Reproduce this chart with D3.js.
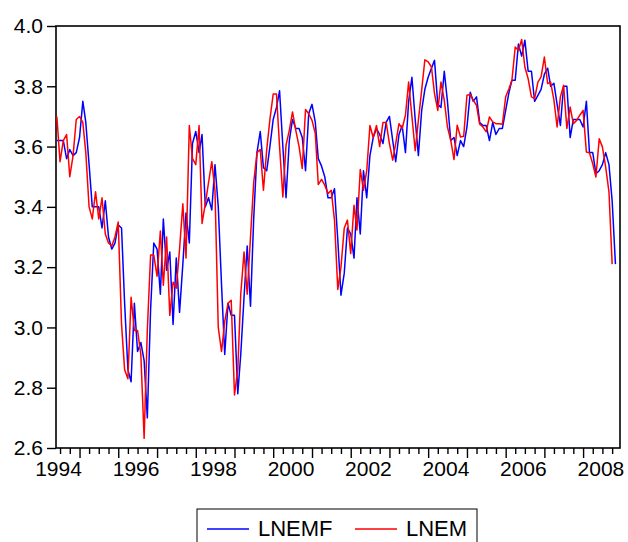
<!DOCTYPE html>
<html>
<head>
<meta charset="utf-8">
<script src="https://cdn.jsdelivr.net/npm/d3@7"></script>
<style>
  body { margin: 0; background: #fff; }
  text { font-family: "Liberation Sans", Arial, sans-serif; fill: #000; }
</style>
</head>
<body>
<div id="chart"></div>
<script>
// monthly series, both start June 1994
var startYear = 1994, startMonth = 5;

var lnemf = [3.62, 3.62, 3.62, 3.56, 3.59, 3.57, 3.58, 3.63, 3.75, 3.68,
  3.54, 3.40, 3.40, 3.40, 3.33, 3.42, 3.30, 3.26, 3.28, 3.34,
  3.33, 3.08, 2.86, 2.82, 3.08, 2.92, 2.95, 2.89, 2.70, 3.06,
  3.28, 3.26, 3.11, 3.36, 3.19, 3.25, 3.01, 3.23, 3.05, 3.21,
  3.38, 3.28, 3.61, 3.65, 3.58, 3.64, 3.40, 3.43, 3.39, 3.54,
  3.40, 3.14, 2.91, 3.08, 3.04, 3.04, 2.78, 2.91, 3.10, 3.27,
  3.07, 3.36, 3.58, 3.65, 3.53, 3.52, 3.60, 3.69, 3.73, 3.785,
  3.60, 3.43, 3.62, 3.69, 3.66, 3.66, 3.63, 3.52, 3.71, 3.74,
  3.68, 3.56, 3.535, 3.50, 3.43, 3.43, 3.46, 3.29, 3.107, 3.18,
  3.33, 3.31, 3.23, 3.43, 3.31, 3.52, 3.43, 3.57, 3.63, 3.66,
  3.64, 3.61, 3.68, 3.70, 3.62, 3.55, 3.64, 3.67, 3.58, 3.75,
  3.83, 3.69, 3.57, 3.72, 3.79, 3.83, 3.86, 3.886, 3.74, 3.73,
  3.85, 3.75, 3.62, 3.63, 3.57, 3.62, 3.60, 3.665, 3.78, 3.75,
  3.765, 3.68, 3.67, 3.67, 3.62, 3.68, 3.64, 3.66, 3.66, 3.72,
  3.78, 3.82, 3.82, 3.94, 3.90, 3.953, 3.85, 3.85, 3.75, 3.77,
  3.79, 3.84, 3.86, 3.80, 3.81, 3.74, 3.67, 3.80, 3.80, 3.63,
  3.69, 3.69, 3.69, 3.665, 3.75, 3.58, 3.58, 3.51, 3.52, 3.54,
  3.58, 3.54, 3.42, 3.21];

var lnem = [3.70, 3.55, 3.62, 3.64, 3.50, 3.57, 3.69, 3.70, 3.68, 3.58,
  3.40, 3.36, 3.45, 3.36, 3.43, 3.31, 3.28, 3.27, 3.30, 3.35,
  3.01, 2.86, 2.83, 3.10, 2.99, 2.99, 2.91, 2.632, 2.99, 3.24,
  3.24, 3.17, 3.32, 3.14, 3.30, 3.04, 3.15, 3.13, 3.26, 3.41,
  3.23, 3.67, 3.56, 3.54, 3.67, 3.345, 3.41, 3.48, 3.55, 3.455,
  3.00, 2.92, 3.02, 3.08, 3.09, 2.776, 2.86, 3.11, 3.25, 3.11,
  3.30, 3.48, 3.58, 3.59, 3.455, 3.59, 3.69, 3.774, 3.774, 3.60,
  3.433, 3.605, 3.654, 3.715, 3.654, 3.60, 3.527, 3.723, 3.709, 3.687,
  3.643, 3.474, 3.491, 3.472, 3.444, 3.455, 3.356, 3.126, 3.20, 3.33,
  3.356, 3.245, 3.405, 3.323, 3.524, 3.455, 3.52, 3.67, 3.63, 3.67,
  3.60, 3.68, 3.68, 3.61, 3.555, 3.61, 3.676, 3.66, 3.704, 3.814,
  3.70, 3.586, 3.687, 3.787, 3.888, 3.881, 3.864, 3.776, 3.72, 3.814,
  3.754, 3.665, 3.621, 3.557, 3.671, 3.632, 3.634, 3.77, 3.773, 3.754,
  3.737, 3.674, 3.665, 3.649, 3.698, 3.682, 3.676, 3.676, 3.674, 3.765,
  3.792, 3.82, 3.93, 3.919, 3.955, 3.864, 3.825, 3.765, 3.759, 3.814,
  3.831, 3.897, 3.809, 3.814, 3.754, 3.665, 3.765, 3.803, 3.66, 3.731,
  3.676, 3.687, 3.704, 3.72, 3.582, 3.579, 3.543, 3.499, 3.626, 3.599,
  3.532, 3.45, 3.21];

var yTicks = [2.6, 2.8, 3.0, 3.2, 3.4, 3.6, 3.8, 4.0];
var yearLabels = [1994, 1996, 1998, 2000, 2002, 2004, 2006, 2008];
var seriesNames = ["LNEMF", "LNEM"];
var seriesColors = ["#0000ff", "#ff0000"];

var margin = {top: 26, right: 8, bottom: 94, left: 56},
    width = 628 - margin.left - margin.right,
    height = 542 - margin.top - margin.bottom;

function monthDate(i) {
    return new Date(Date.UTC(startYear, startMonth + i, 1));
}

var x = d3.scaleUtc()
    .domain([new Date(Date.UTC(1994, 4, 24)), new Date(Date.UTC(2008, 11, 14))])
    .range([0, width]);
var y = d3.scaleLinear()
    .domain([2.6, 4.0])
    .range([height, 0]);

var svg = d3.select("#chart").append("svg")
    .attr("width", 628)
    .attr("height", 542)
    .append("g")
    .attr("transform", "translate(" + margin.left + "," + margin.top + ")");

// quarter and year ticks along the bottom
var quarters = d3.utcMonths(new Date(Date.UTC(1994, 0, 1)), new Date(Date.UTC(2009, 0, 1)), 3)
    .filter(function(d) { return d >= x.domain()[0] && d <= x.domain()[1] && d.getUTCMonth() != 0; });
var years = d3.utcYears(new Date(Date.UTC(1995, 0, 1)), new Date(Date.UTC(2009, 0, 1)));

svg.append("g")
    .attr("transform", "translate(0," + height + ")")
    .call(d3.axisBottom(x).tickValues(quarters).tickSize(6).tickFormat(""))
    .call(function(g) { g.select(".domain").remove(); });

svg.append("g")
    .attr("transform", "translate(0," + height + ")")
    .call(d3.axisBottom(x).tickValues(years).tickSize(10).tickFormat(""))
    .call(function(g) { g.select(".domain").remove(); });

// labels sit in the middle of each year
svg.append("g")
    .attr("transform", "translate(0," + height + ")")
    .call(d3.axisBottom(x)
        .tickValues(yearLabels.map(function(yr) { return new Date(Date.UTC(yr, 6, 1)); }))
        .tickSize(0).tickPadding(13)
        .tickFormat(d3.utcFormat("%Y")))
    .call(function(g) { g.select(".domain").remove(); })
    .selectAll("text")
    .attr("dx", "-2")
    .style("font-size", "21px");

svg.append("g")
    .call(d3.axisLeft(y).tickValues(yTicks).tickSize(9).tickPadding(4).tickFormat(d3.format(".1f")))
    .call(function(g) { g.select(".domain").remove(); })
    .selectAll("text")
    .style("font-size", "21px");

svg.selectAll(".tick line").attr("stroke", "#000").attr("stroke-width", 1.4);

// frame
svg.append("rect")
    .attr("width", width)
    .attr("height", height)
    .attr("fill", "none")
    .attr("stroke", "#000")
    .attr("stroke-width", 1.6);

var line = d3.line()
    .x(function(d, i) { return x(monthDate(i)); })
    .y(function(d) { return y(d); });

[lnemf, lnem].forEach(function(s, k) {
    svg.append("path")
        .datum(s)
        .attr("fill", "none")
        .attr("stroke", seriesColors[k])
        .attr("stroke-width", 1.5)
        .attr("stroke-linejoin", "round")
        .attr("d", line);
});

// legend
var legend = svg.append("g")
    .attr("transform", "translate(" + (197 - margin.left) + "," + (509 - margin.top) + ")");

legend.append("rect")
    .attr("width", 280)
    .attr("height", 44)
    .attr("fill", "#fff")
    .attr("stroke", "#000")
    .attr("stroke-width", 1);

var legendX = [10, 158];
seriesNames.forEach(function(name, k) {
    legend.append("line")
        .attr("x1", legendX[k]).attr("x2", legendX[k] + 42)
        .attr("y1", 20).attr("y2", 20)
        .attr("stroke", seriesColors[k])
        .attr("stroke-width", 1.5);
    legend.append("text")
        .attr("x", legendX[k] + 51)
        .attr("y", 27)
        .style("font-size", "22px")
        .text(name);
});
</script>
</body>
</html>
